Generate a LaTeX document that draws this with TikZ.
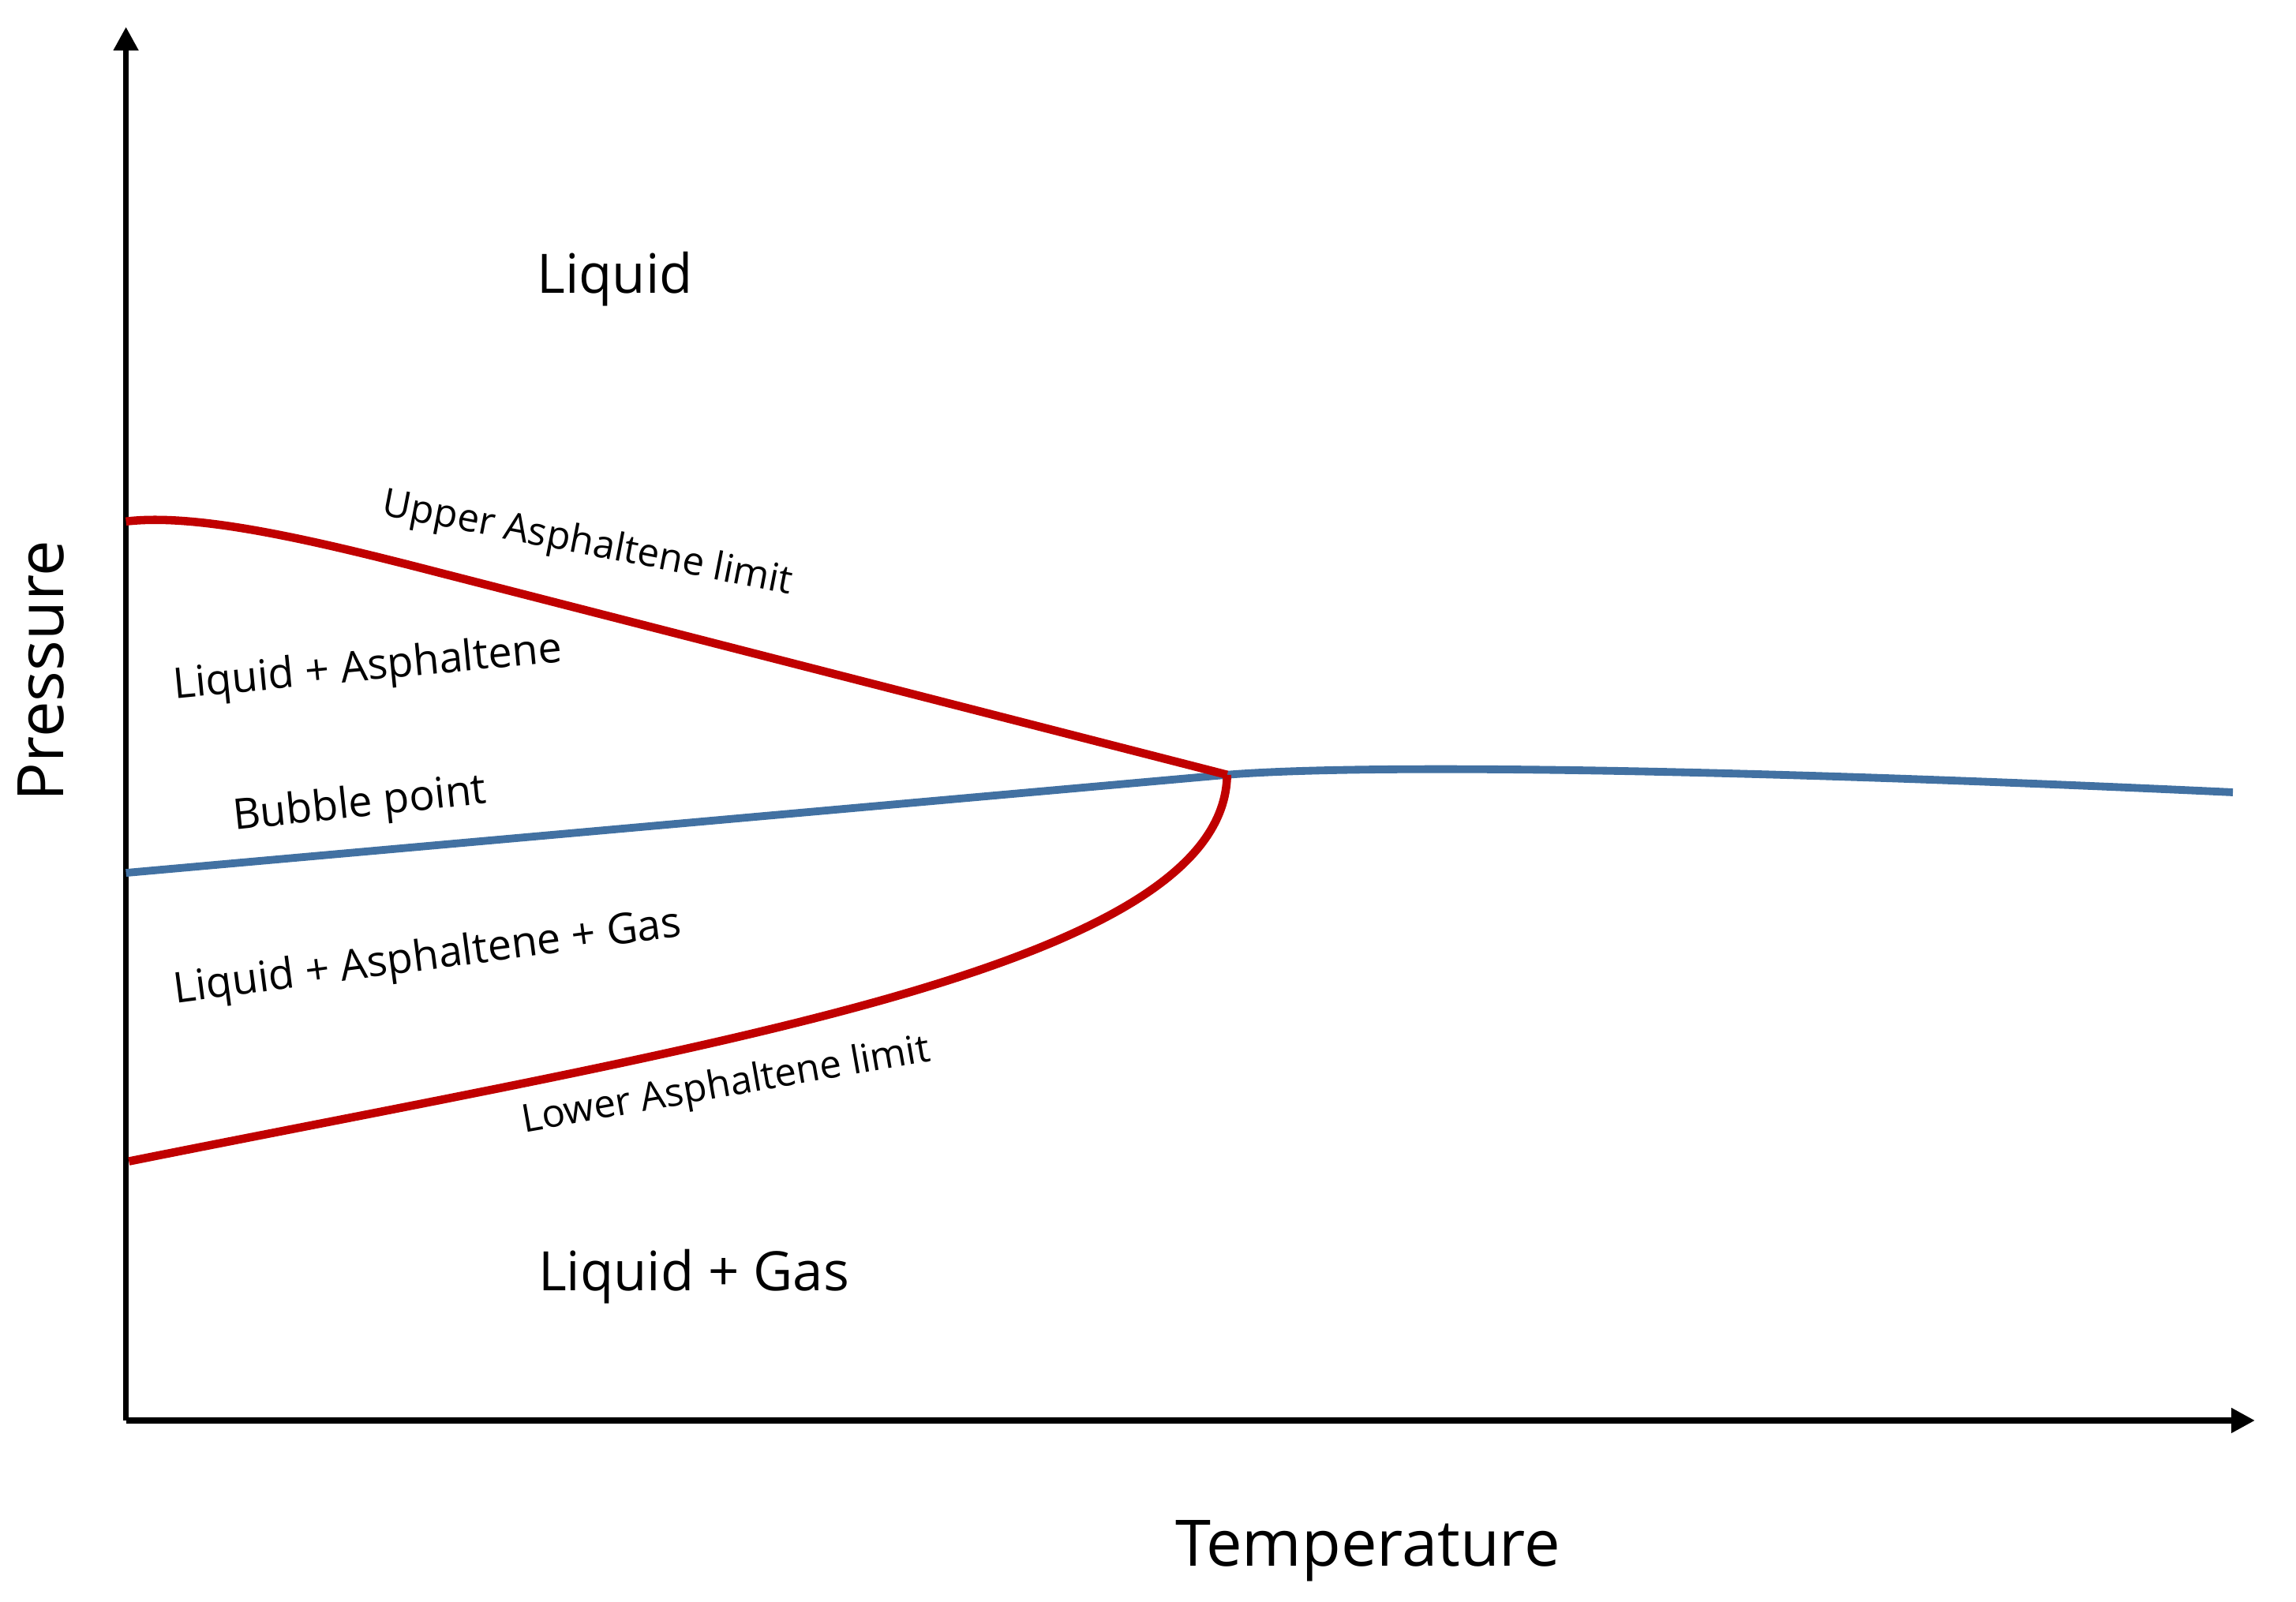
\documentclass[tikz,border=0pt]{standalone}
\usepackage{fontspec}
\setmainfont{Open Sans}
\usepackage{tikz}
\usetikzlibrary{arrows.meta}
\definecolor{limitred}{RGB}{192, 0, 0}
\definecolor{bubbleblue}{RGB}{66, 113, 162}

\begin{document}
\begin{tikzpicture}[
  axisline/.style={line width=2.2pt, black, -{Triangle[length=0.3cm, width=0.3cm]}},
  limitline/.style={line width=3pt, limitred},
  bubbleline/.style={line width=2.8pt, bubbleblue},
  regionlabel/.style={font=\fontsize{19.6}{23}\selectfont},
  axislabel/.style={font=\fontsize{23.1}{27}\selectfont},
  smalllabel/.style={font=\fontsize{15.3}{18}\selectfont},
  curvelabel/.style={font=\fontsize{14}{17}\selectfont}]
\useasboundingbox (0,0) rectangle (29.09,20.30);
% axes
\coordinate (origin) at (1.596,2.30);
\coordinate (ytip) at (1.596,19.96);
\coordinate (xtip) at (28.57,2.30);
\draw[axisline] (origin) -- (ytip);
\draw[axisline] (origin) -- (xtip);
% phase boundaries
\coordinate (junction) at (15.547,10.482);
\coordinate (upperstart) at (1.596,13.692);
\coordinate (upperknee) at (5.566,13.043);
\coordinate (bubblestart) at (1.596,9.239);
\coordinate (bubbleend) at (28.29,10.26);
\coordinate (lowerstart) at (1.633,5.584);
\draw[bubbleline] (bubblestart) -- (junction) .. controls (17.0,10.6) and (21.0,10.6) .. (bubbleend);
\draw[limitline] (upperstart) .. controls (2.5,13.80) and (3.97,13.457) .. (upperknee) -- (junction);
\draw[limitline] (lowerstart) .. controls (9.054,7.069) and (15.51,8.052) .. (junction);
% labels
\node[regionlabel] (liquid) at (7.79,16.76) {Liquid};
\node[regionlabel] (liqgas) at (8.79,4.12) {Liquid + Gas};
\node[axislabel] (temp) at (17.33,0.65) {Temperature};
\node[axislabel, rotate=90] (press) at (0.52,11.80) {Pressure};
\node[curvelabel, rotate=-11] (upperlbl) at (7.44,13.40) {Upper Asphaltene limit};
\node[smalllabel, rotate=5.5] (liqasph) at (4.66,11.82) {Liquid + Asphaltene};
\node[smalllabel, rotate=6] (bubblelbl) at (4.56,10.09) {Bubble point};
\node[smalllabel, rotate=7.5] (liqasphgas) at (5.42,8.15) {Liquid + Asphaltene + Gas};
\node[curvelabel, rotate=10] (lowerlbl) at (9.20,6.53) {Lower Asphaltene limit};
\end{tikzpicture}
\end{document}
